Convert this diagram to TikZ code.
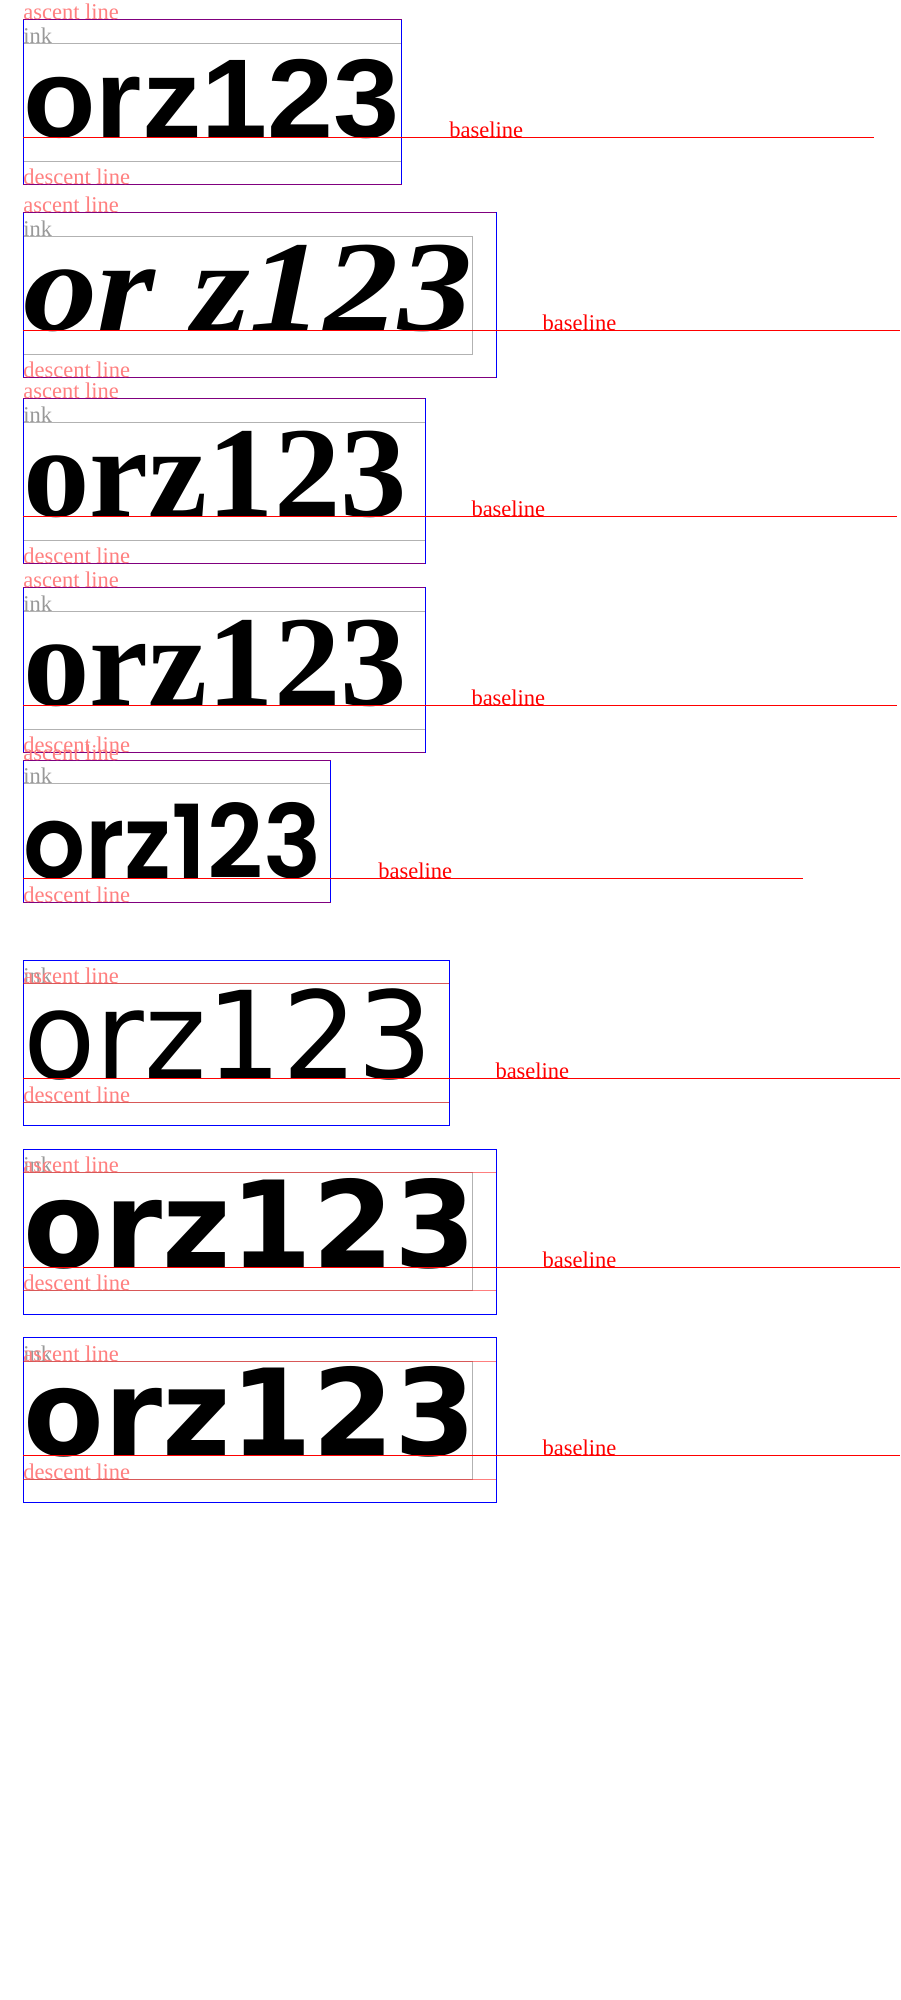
\documentclass[tikz,border=0pt]{standalone}
\usepackage{fontspec}
\setmainfont{Liberation Serif}
\newfontfamily\arialish[FakeStretch=1.06]{Liberation Sans}
\newfontfamily\timesish[FakeStretch=1.15]{Liberation Serif}
\newfontfamily\schoolish[FakeStretch=1.03]{Liberation Serif}
\newfontfamily\poppinsish[UprightFont={* SemiBold}, FakeStretch=0.955]{Poppins}
\newfontfamily\dejavuish[FakeStretch=0.98]{DejaVu Sans}
\usepackage{tikz}

\begin{document}
\begin{tikzpicture}[x=1pt, y=-1pt,
	word/.style={anchor=base west, inner sep=0pt, outer sep=0pt},
	tag/.style={anchor=base west, inner sep=0pt, outer sep=0pt, font=\fontsize{22.5}{22.5}\selectfont},
	emtag/.style={tag, text=red!50},
	inktag/.style={tag, text=black!40},
	basetag/.style={tag, text=red},
	emline/.style={draw=blue, line width=1pt},
	inkline/.style={draw=black!30, line width=1pt},
	metric/.style={draw=red, draw opacity=0.5, line width=1pt},
	basestroke/.style={draw=red, line width=1pt}]
	\useasboundingbox[fill=white] (0,0) rectangle (900,2000);

	% 1: sans
	\draw[inkline] (23.3,43) rectangle (401.5,161.3);
	\draw[emline] (23.3,19.3) rectangle (401.5,184.3);
	\draw[metric] (23.3,19.3) -- (401.5,19.3) (23.3,184.3) -- (401.5,184.3);
	\node[word, font=\fontsize{112}{112}\selectfont\arialish\bfseries] (w1) at (23.3,137.3) {orz123};
	\coordinate (e1) at (874,137.3);
	\draw[basestroke] (w1.base west) -- (e1);
	\node[inktag] (i1) at (23.3,43) {ink};
	\node[emtag] (a1) at (23.3,19.3) {ascent line};
	\node[emtag] (d1) at (23.3,184.3) {descent line};
	\node[basetag] (b1) at (449.3,137.3) {baseline};

	% 2: bold italic serif
	\draw[inkline] (23.3,236) rectangle (472.7,354);
	\draw[emline] (23.3,212.7) rectangle (496,377.3);
	\draw[metric] (23.3,212.7) -- (496,212.7) (23.3,377.3) -- (496,377.3);
	\node[word, font=\fontsize{129}{129}\selectfont\timesish\bfseries\itshape] (w2) at (23.3,330.3) {or z123};
	\coordinate (e2) at (900,330.3);
	\draw[basestroke] (w2.base west) -- (e2);
	\node[inktag] (i2) at (23.3,236) {ink};
	\node[emtag] (a2) at (23.3,212.7) {ascent line};
	\node[emtag] (d2) at (23.3,377.3) {descent line};
	\node[basetag] (b2) at (542.7,330.3) {baseline};

	% 3: serif
	\draw[inkline] (23.3,422) rectangle (425,540.3);
	\draw[emline] (23.3,398.3) rectangle (425,563.3);
	\draw[metric] (23.3,398.3) -- (425,398.3) (23.3,563.3) -- (425,563.3);
	\node[word, font=\fontsize{129}{129}\selectfont\schoolish\bfseries] (w3) at (23.3,516.3) {orz123};
	\coordinate (e3) at (897,516.3);
	\draw[basestroke] (w3.base west) -- (e3);
	\node[inktag] (i3) at (23.3,422) {ink};
	\node[emtag] (a3) at (23.3,398.3) {ascent line};
	\node[emtag] (d3) at (23.3,563.3) {descent line};
	\node[basetag] (b3) at (471.5,516.3) {baseline};

	% 4: serif again
	\draw[inkline] (23.3,611) rectangle (425,729.3);
	\draw[emline] (23.3,587.3) rectangle (425,752.3);
	\draw[metric] (23.3,587.3) -- (425,587.3) (23.3,752.3) -- (425,752.3);
	\node[word, font=\fontsize{129}{129}\selectfont\schoolish\bfseries] (w4) at (23.3,705.3) {orz123};
	\coordinate (e4) at (897,705.3);
	\draw[basestroke] (w4.base west) -- (e4);
	\node[inktag] (i4) at (23.3,611) {ink};
	\node[emtag] (a4) at (23.3,587.3) {ascent line};
	\node[emtag] (d4) at (23.3,752.3) {descent line};
	\node[basetag] (b4) at (471.5,705.3) {baseline};

	% 5: geometric sans
	\draw[inkline] (23.3,783.7) rectangle (330.7,902.3);
	\draw[emline] (23.3,760.7) rectangle (330.7,902.3);
	\draw[metric] (23.3,760.7) -- (330.7,760.7) (23.3,902.3) -- (330.7,902.3);
	\node[word, font=\fontsize{102}{102}\selectfont\poppinsish] (w5) at (23.3,878) {orz123};
	\coordinate (e5) at (802.5,878);
	\draw[basestroke] (w5.base west) -- (e5);
	\node[inktag] (i5) at (23.3,783.7) {ink};
	\node[emtag] (a5) at (23.3,760.7) {ascent line};
	\node[emtag] (d5) at (23.3,902.3) {descent line};
	\node[basetag] (b5) at (378.3,878) {baseline};

	% 6: dejavu
	\draw[inkline] (23.3,983.7) rectangle (449,1102);
	\draw[emline] (23.3,960.3) rectangle (449,1125);
	\draw[metric] (23.3,983.7) -- (449,983.7) (23.3,1102) -- (449,1102);
	\node[word, font=\fontsize{121}{121}\selectfont\dejavuish] (w6) at (23.3,1078) {orz123};
	\coordinate (e6) at (900,1078);
	\draw[basestroke] (w6.base west) -- (e6);
	\node[inktag] (i6) at (23.3,983.7) {ink};
	\node[emtag] (a6) at (23.3,983.7) {ascent line};
	\node[emtag] (d6) at (23.3,1102) {descent line};
	\node[basetag] (b6) at (495.5,1078) {baseline};

	% 7: dejavu bold
	\draw[inkline] (23.3,1172.7) rectangle (472.7,1290.7);
	\draw[emline] (23.3,1149.3) rectangle (496,1314);
	\draw[metric] (23.3,1172.7) -- (496,1172.7) (23.3,1290.7) -- (496,1290.7);
	\node[word, font=\fontsize{120}{120}\selectfont\dejavuish\bfseries] (w7) at (23.3,1267.3) {orz123};
	\coordinate (e7) at (900,1267.3);
	\draw[basestroke] (w7.base west) -- (e7);
	\node[inktag] (i7) at (23.3,1172.7) {ink};
	\node[emtag] (a7) at (23.3,1172.7) {ascent line};
	\node[emtag] (d7) at (23.3,1290.7) {descent line};
	\node[basetag] (b7) at (542.7,1267.3) {baseline};

	% 8: dejavu bold again
	\draw[inkline] (23.3,1361.3) rectangle (472.7,1479.3);
	\draw[emline] (23.3,1337.9) rectangle (496,1502.6);
	\draw[metric] (23.3,1361.3) -- (496,1361.3) (23.3,1479.3) -- (496,1479.3);
	\node[word, font=\fontsize{120}{120}\selectfont\dejavuish\bfseries] (w8) at (23.3,1455.9) {orz123};
	\coordinate (e8) at (900,1455.9);
	\draw[basestroke] (w8.base west) -- (e8);
	\node[inktag] (i8) at (23.3,1361.3) {ink};
	\node[emtag] (a8) at (23.3,1361.3) {ascent line};
	\node[emtag] (d8) at (23.3,1479.3) {descent line};
	\node[basetag] (b8) at (542.7,1455.9) {baseline};
\end{tikzpicture}
\end{document}
